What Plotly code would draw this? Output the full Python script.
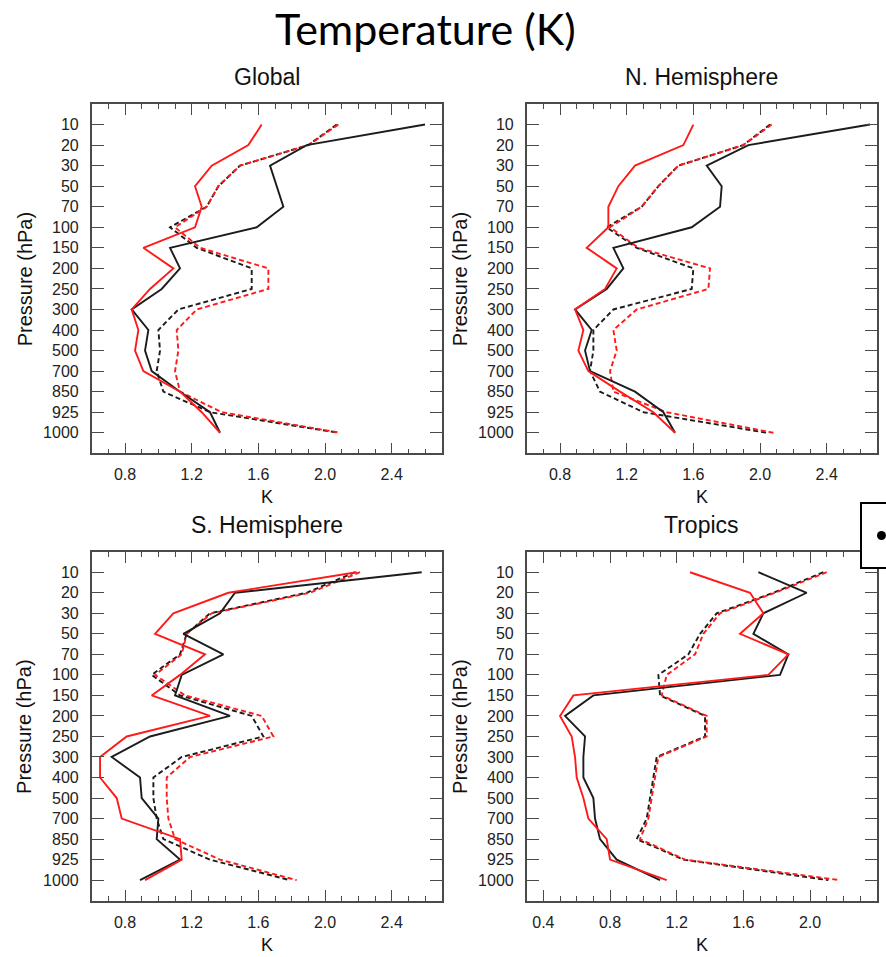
import plotly.graph_objects as go

levels = ["10", "20", "30", "50", "70", "100", "150", "200", "250", "300",
          "400", "500", "700", "850", "925", "1000"]

panel_titles = ["Global", "N. Hemisphere", "S. Hemisphere", "Tropics"]

# Global
glob_black_solid = [2.60, 1.89, 1.67, 1.71, 1.75, 1.59, 1.07, 1.13, 1.02, 0.84, 0.94, 0.92, 0.96, 1.13, 1.31, 1.37]
glob_red_solid = [1.62, 1.54, 1.32, 1.22, 1.26, 1.22, 0.91, 1.09, 0.95, 0.84, 0.88, 0.86, 0.91, 1.13, 1.26, 1.37]
glob_black_dash = [2.07, 1.90, 1.49, 1.36, 1.29, 1.07, 1.23, 1.56, 1.56, 1.12, 1.00, 1.01, 0.99, 1.03, 1.31, 2.08]
glob_red_dash = [2.08, 1.90, 1.49, 1.36, 1.29, 1.10, 1.25, 1.66, 1.66, 1.23, 1.11, 1.12, 1.10, 1.13, 1.38, 2.09]

# N. Hemisphere
nh_black_solid = [2.66, 1.93, 1.68, 1.77, 1.76, 1.59, 1.12, 1.18, 1.08, 0.89, 0.99, 0.95, 0.98, 1.25, 1.42, 1.49]
nh_red_solid = [1.60, 1.54, 1.25, 1.15, 1.09, 1.09, 0.96, 1.14, 1.07, 0.89, 0.94, 0.91, 0.97, 1.16, 1.36, 1.49]
nh_black_dash = [2.06, 1.90, 1.51, 1.39, 1.29, 1.08, 1.26, 1.60, 1.59, 1.12, 1.00, 1.00, 0.98, 1.04, 1.30, 2.04]
nh_red_dash = [2.07, 1.90, 1.51, 1.39, 1.29, 1.10, 1.27, 1.70, 1.69, 1.26, 1.12, 1.14, 1.10, 1.12, 1.44, 2.08]

# S. Hemisphere
sh_black_solid = [2.58, 1.46, 1.37, 1.15, 1.39, 1.14, 1.10, 1.43, 0.95, 0.72, 0.89, 0.90, 1.00, 0.99, 1.13, 0.89]
sh_red_solid = [2.19, 1.42, 1.09, 0.98, 1.28, 1.13, 0.96, 1.31, 0.81, 0.65, 0.65, 0.75, 0.78, 1.13, 1.14, 0.92]
sh_black_dash = [2.18, 1.89, 1.31, 1.17, 1.13, 0.96, 1.13, 1.56, 1.63, 1.14, 0.97, 0.97, 0.99, 1.03, 1.31, 1.79]
sh_red_dash = [2.21, 1.91, 1.32, 1.17, 1.14, 0.98, 1.16, 1.62, 1.69, 1.19, 1.05, 1.05, 1.06, 1.10, 1.37, 1.83]

# Tropics
tr_black_solid = [1.69, 1.98, 1.72, 1.66, 1.87, 1.82, 0.70, 0.53, 0.65, 0.64, 0.64, 0.70, 0.71, 0.74, 0.84, 1.10]
tr_red_solid = [1.28, 1.64, 1.72, 1.58, 1.87, 1.75, 0.58, 0.50, 0.57, 0.59, 0.60, 0.64, 0.67, 0.78, 0.80, 1.14]
tr_black_dash = [2.08, 1.78, 1.44, 1.34, 1.27, 1.09, 1.10, 1.37, 1.37, 1.08, 1.06, 1.04, 1.02, 0.96, 1.24, 2.11]
tr_red_dash = [2.10, 1.79, 1.46, 1.36, 1.31, 1.14, 1.11, 1.38, 1.38, 1.09, 1.07, 1.05, 1.03, 0.98, 1.25, 2.18]

x_ranges = [[0.6, 2.7], [0.6, 2.7], [0.6, 2.7], [0.3, 2.4]]
x_tick0 = [0.8, 0.8, 0.8, 0.4]

W, H = 886, 957
BLACK = "#1c1c1c"
RED = "#ff1a1a"
AXC = "#4a4a4a"
FONT = "Liberation Sans, Arial, sans-serif"

panels = [
    (glob_black_solid, glob_red_solid, glob_black_dash, glob_red_dash),
    (nh_black_solid, nh_red_solid, nh_black_dash, nh_red_dash),
    (sh_black_solid, sh_red_solid, sh_black_dash, sh_red_dash),
    (tr_black_solid, tr_red_solid, tr_black_dash, tr_red_dash),
]

# frame pixel boxes (left, top, right, bottom)
boxes = [
    (91.7, 104.0, 441.7, 453.3),
    (526.7, 104.0, 876.7, 453.3),
    (91.7, 551.7, 441.7, 900.7),
    (526.7, 551.7, 876.7, 900.7),
]

fig = go.Figure()
layout = dict(
    width=W, height=H,
    margin=dict(l=0, r=0, t=0, b=0),
    paper_bgcolor="white", plot_bgcolor="white",
    showlegend=False,
    font=dict(family=FONT, color="#222"),
)

annotations = []
for i, (bs, rs, bd, rd) in enumerate(panels):
    n = i + 1
    xa = "x" if n == 1 else f"x{n}"
    ya = "y" if n == 1 else f"y{n}"
    series = [
        (bd, BLACK, "5px,3px"), (rd, RED, "5px,3px"),
        (bs, BLACK, "solid"), (rs, RED, "solid"),
    ]
    for vals, col, dash in series:
        fig.add_trace(go.Scatter(
            x=vals, y=levels, mode="lines", xaxis=xa, yaxis=ya,
            line=dict(color=col, width=1.9, dash=dash),
            hoverinfo="skip",
        ))
    l, t, r, b = boxes[i]
    xdom = [l / W, r / W]
    ydom = [1 - b / H, 1 - t / H]
    layout["xaxis" if n == 1 else f"xaxis{n}"] = dict(
        domain=xdom, anchor=ya, range=x_ranges[i],
        tickmode="linear", tick0=x_tick0[i], dtick=0.4, tickformat=".1f",
        ticks="inside", ticklen=11, tickwidth=1.3, tickcolor=AXC,
        minor=dict(ticks="inside", ticklen=5, tickwidth=1.1, tickcolor=AXC,
                   dtick=0.1, tick0=x_tick0[i], showgrid=False),
        showline=True, linecolor=AXC, linewidth=1.6, mirror="allticks",
        showgrid=False, zeroline=False,
        tickfont=dict(size=16, family=FONT, color="#222"),
        ticklabelstandoff=6,
    )
    layout["yaxis" if n == 1 else f"yaxis{n}"] = dict(
        domain=ydom, anchor=xa, type="category",
        categoryorder="array", categoryarray=levels,
        range=[16, -1],
        ticks="inside", ticklen=12, tickwidth=1.3, tickcolor=AXC,
        showline=True, linecolor=AXC, linewidth=1.6, mirror="allticks",
        showgrid=False, zeroline=False,
        tickfont=dict(size=16, family=FONT, color="#222"),
        ticklabelstandoff=8,
    )
    cx = (l + r) / 2 / W
    # panel title
    annotations.append(dict(
        text=panel_titles[i], x=cx, y=1 - (t - 27) / H, xref="paper", yref="paper",
        xanchor="center", yanchor="middle", showarrow=False,
        font=dict(size=23, family=FONT, color="#111"),
    ))
    # x axis title
    annotations.append(dict(
        text="K", x=cx, y=1 - (b + 44) / H, xref="paper", yref="paper",
        xanchor="center", yanchor="middle", showarrow=False,
        font=dict(size=18, family=FONT, color="#111"),
    ))
    # y axis title
    annotations.append(dict(
        text="Pressure (hPa)", x=(l - 67) / W, y=1 - (t + b) / 2 / H,
        xref="paper", yref="paper", textangle=-90,
        xanchor="center", yanchor="middle", showarrow=False,
        font=dict(size=20, family=FONT, color="#111"),
    ))

annotations.append(dict(
    text="Temperature (K)", x=425 / W, y=1 - 28 / H, xref="paper", yref="paper",
    xanchor="center", yanchor="middle", showarrow=False,
    font=dict(size=43, family="Lato, Liberation Sans, sans-serif", color="#000"),
))
layout["annotations"] = annotations

layout["shapes"] = [
    dict(type="rect", xref="paper", yref="paper",
         x0=861 / W, x1=900 / W, y0=1 - 568 / H, y1=1 - 503 / H,
         line=dict(color="#000", width=2), fillcolor="white", layer="above"),
    dict(type="circle", xref="paper", yref="paper",
         x0=877 / W, x1=886 / W, y0=1 - 540 / H, y1=1 - 531 / H,
         line=dict(color="#000", width=0), fillcolor="#000", layer="above"),
]

fig.update_layout(**layout)
fig.write_html(
    "out.html",
    config={"displayModeBar": False},
    post_script="document.body.style.margin='0px';document.body.style.padding='0px';document.body.style.overflow='hidden';",
)
